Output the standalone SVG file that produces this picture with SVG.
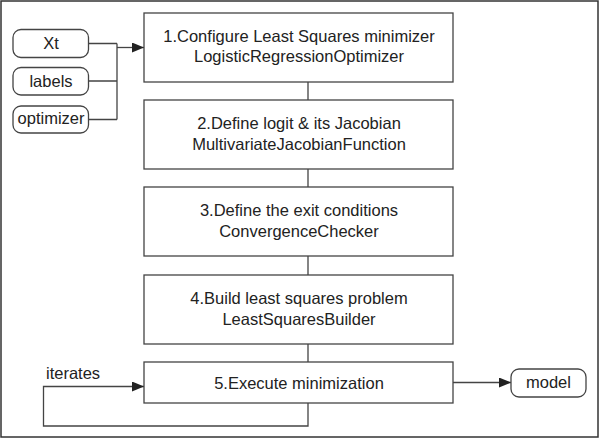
<svg xmlns="http://www.w3.org/2000/svg" width="600" height="439" viewBox="0 0 600 439">
<style>
.box{fill:#fff;stroke:#444;stroke-width:1.3}
.pill{fill:#fff;stroke:#444;stroke-width:1.3}
.t{font-family:"Liberation Sans",Arial,sans-serif;font-size:16.5px;fill:#222;text-anchor:middle}
.tl{font-family:"Liberation Sans",Arial,sans-serif;font-size:16.5px;fill:#222}
.c{fill:none;stroke:#444;stroke-width:1.3}
</style>
<defs>
<marker id="ah" viewBox="0 0 12 10" refX="12" refY="5" markerWidth="12" markerHeight="10" markerUnits="userSpaceOnUse" orient="auto">
<path d="M0,0 L12,5 L0,10 Z" fill="#222"/>
</marker>
</defs>
<rect x="1" y="1" width="597" height="436" fill="#fff" stroke="#333" stroke-width="1.5"/>
<g id="connectors">
<path class="c" d="M88,43.5 H117 M88,81 H117 M88,119.5 H117 M117,43.5 V119.5"/>
<path class="c" d="M117,47.5 H144" marker-end="url(#ah)"/>
<path class="c" d="M308,82 V100 M308,169 V187 M308,256 V275 M308,344 V362"/>
<path class="c" d="M308,403 V426 H43.5 V386.5 H144" marker-end="url(#ah)"/>
<path class="c" d="M453,382.5 H511" marker-end="url(#ah)"/>
<text class="tl" x="46" y="379">iterates</text>
</g>
<g id="in-xt"><rect class="pill" x="13" y="29.5" width="75.5" height="28" rx="8"/><text class="t" x="51" y="49">Xt</text></g>
<g id="in-labels"><rect class="pill" x="13" y="67.5" width="75.5" height="27.5" rx="8"/><text class="t" x="51" y="87">labels</text></g>
<g id="in-optimizer"><rect class="pill" x="13" y="106" width="75.5" height="27" rx="8"/><text class="t" x="51" y="124">optimizer</text></g>
<g id="step1"><rect class="box" x="144" y="13" width="309" height="69"/><text class="t" x="299" y="42">1.Configure Least Squares minimizer</text><text class="t" x="299" y="62">LogisticRegressionOptimizer</text></g>
<g id="step2"><rect class="box" x="144" y="100" width="309" height="69"/><text class="t" x="299" y="129">2.Define logit &amp; its Jacobian</text><text class="t" x="299" y="150">MultivariateJacobianFunction</text></g>
<g id="step3"><rect class="box" x="144" y="187" width="309" height="69"/><text class="t" x="299" y="216">3.Define the exit conditions</text><text class="t" x="299" y="237">ConvergenceChecker</text></g>
<g id="step4"><rect class="box" x="144" y="275" width="309" height="69"/><text class="t" x="299" y="304">4.Build least squares problem</text><text class="t" x="299" y="325">LeastSquaresBuilder</text></g>
<g id="step5"><rect class="box" x="144" y="362" width="309" height="41"/><text class="t" x="299" y="389">5.Execute minimization</text></g>
<g id="out-model"><rect class="pill" x="511" y="369" width="75" height="28" rx="8"/><text class="t" x="548.5" y="388">model</text></g>
</svg>
